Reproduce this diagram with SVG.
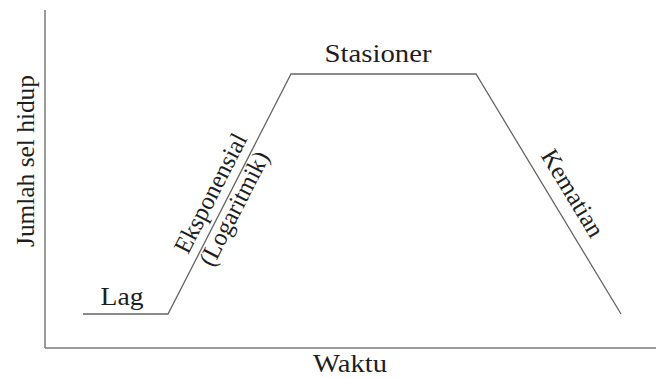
<svg xmlns="http://www.w3.org/2000/svg" width="658" height="378" viewBox="0 0 658 378">
  <style>
    .axis { stroke: #7a7a7a; stroke-width: 1.5; fill: none; }
    .curve { stroke: #666; stroke-width: 1.3; fill: none; stroke-linejoin: miter; }
    .lbl { font-family: "Liberation Serif", "DejaVu Serif", serif; font-size: 25px; fill: #1e1e1e; text-anchor: middle; }
  </style>
  <rect width="658" height="378" fill="#ffffff"/>
  <g id="connectors">
    <path id="y-axis" class="axis" d="M45,10 V348"/>
    <path id="x-axis" class="axis" d="M45,348 H656"/>
    <path id="growth-curve" class="curve" d="M83,314 H168 L291,74 H476 L621,314"/>
  </g>
  <g id="node-ylabel">
    <text class="lbl" transform="translate(34,161) rotate(-90)" textLength="172" lengthAdjust="spacingAndGlyphs">Jumlah sel hidup</text>
  </g>
  <g id="node-xlabel">
    <text class="lbl" x="350" y="372" textLength="74" lengthAdjust="spacingAndGlyphs">Waktu</text>
  </g>
  <g id="node-lag">
    <text class="lbl" x="122" y="305" textLength="43" lengthAdjust="spacingAndGlyphs">Lag</text>
  </g>
  <g id="node-eksponensial">
    <text class="lbl" transform="translate(217.9,196.9) rotate(-62.87)" textLength="131" lengthAdjust="spacingAndGlyphs">Eksponensial</text>
    <text class="lbl" transform="translate(241.4,212.3) rotate(-62.87)" textLength="125" lengthAdjust="spacingAndGlyphs">(Logaritmik)</text>
  </g>
  <g id="node-stasioner">
    <text class="lbl" x="378" y="62" textLength="107" lengthAdjust="spacingAndGlyphs">Stasioner</text>
  </g>
  <g id="node-kematian">
    <text class="lbl" transform="translate(565.7,197.4) rotate(58.86)" textLength="98" lengthAdjust="spacingAndGlyphs">Kematian</text>
  </g>
</svg>
